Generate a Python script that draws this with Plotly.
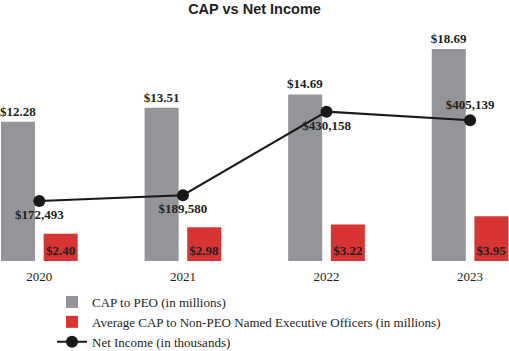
import plotly.graph_objects as go

years = ["2020", "2021", "2022", "2023"]
cap_peo = [12.28, 13.51, 14.69, 18.69]
cap_neo = [2.40, 2.98, 3.22, 3.95]
net_income = [172493, 189580, 430158, 405139]

cap_peo_labels = ["$%.2f" % v for v in cap_peo]
cap_neo_labels = ["$%.2f" % v for v in cap_neo]
ni_labels = ["${:,}".format(v) for v in net_income]

SERIF = "Times New Roman, Liberation Serif, serif"
GRAY = "#939598"
RED = "#d83434"

fig = go.Figure()
fig.add_trace(go.Bar(
    x=years, y=cap_peo, name="CAP to PEO (in millions)",
    marker=dict(color=GRAY, line=dict(width=0)),
    width=0.237, offset=-0.267,
    text=cap_peo_labels, textposition="outside", cliponaxis=False,
    constraintext="none", textangle=0,
    textfont=dict(family=SERIF, size=13, color="#231f20", weight="bold"),
))
fig.add_trace(go.Bar(
    x=years, y=cap_neo,
    name="Average CAP to Non-PEO Named Executive Officers (in millions)",
    marker=dict(color=RED, line=dict(width=0)),
    width=0.237, offset=0.030,
    text=cap_neo_labels, textposition="inside", insidetextanchor="start",
    constraintext="none", textangle=0,
    textfont=dict(family=SERIF, size=13, color="#231f20", weight="bold"),
))
fig.add_trace(go.Scatter(
    x=years, y=net_income, name="Net Income (in thousands)", yaxis="y2",
    mode="lines+markers+text",
    line=dict(color="#1a1718", width=2),
    marker=dict(color="#1a1718", size=12),
    text=ni_labels,
    textposition=["bottom center", "bottom center", "bottom center", "top center"],
    textfont=dict(family=SERIF, size=13, color="#231f20", weight="bold"),
    cliponaxis=False,
))

fig.update_layout(
    width=509, height=351,
    margin=dict(l=0, r=0, t=40, b=90, autoexpand=False),
    paper_bgcolor="white", plot_bgcolor="white",
    barmode="group",
    title=dict(text="<b>CAP vs Net Income</b>", x=0.5, xanchor="center",
               y=1 - 9 / 351, yanchor="middle",
               font=dict(family="Arial, Liberation Sans, sans-serif", size=14.5, color="#231f20")),
    xaxis=dict(range=[-0.274, 3.271], showgrid=False, showline=False, zeroline=False,
               ticks="", ticklabelstandoff=6,
               tickfont=dict(family=SERIF, size=13, color="#231f20")),
    yaxis=dict(range=[0, 19.49], visible=False, showgrid=False, zeroline=False),
    yaxis2=dict(range=[0, 636480], overlaying="y", visible=False, showgrid=False, zeroline=False),
    showlegend=True,
    legend=dict(orientation="v", x=52 / 509, xanchor="left", y=-0.276, yanchor="middle",
                font=dict(family=SERIF, size=13, color="#231f20"),
                bgcolor="rgba(0,0,0,0)", traceorder="normal"),
)

fig.write_html("out.html")
